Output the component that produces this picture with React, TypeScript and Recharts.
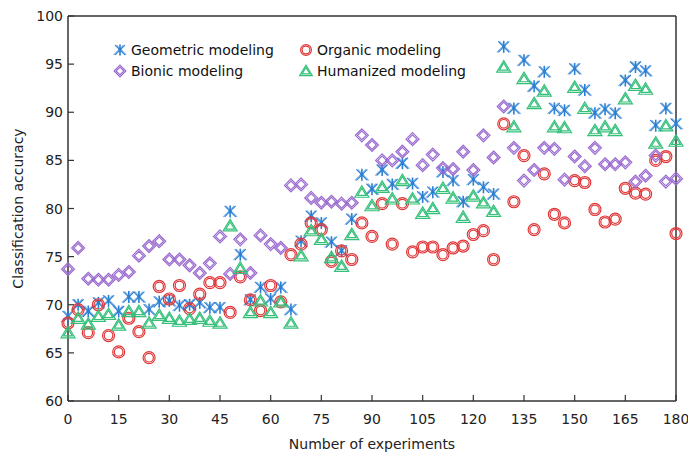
import { ReferenceLine, Scatter, ScatterChart, XAxis, YAxis } from "recharts";

// experiment number for each measurement
const experiments = [
  0, 3, 6, 9, 12, 15, 18, 21, 24, 27, 30, 33, 36, 39, 42, 45, 48, 51, 54, 57, 60,
  63, 66, 69, 72, 75, 78, 81, 84, 87, 90, 93, 96, 99, 102, 105, 108, 111, 114, 117,
  120, 123, 126, 129, 132, 135, 138, 141, 144, 147, 150, 153, 156, 159, 162, 165,
  168, 171, 174, 177, 180,
];

const geometric = [
  68.8, 70.0, 69.3, 70.2, 70.4, 69.3, 70.8, 70.8, 69.5, 70.3, 70.4, 69.9, 70.0, 70.2,
  69.7, 69.7, 79.7, 75.2, 70.5, 71.8, 70.6, 71.8, 69.5, 76.6, 79.2, 78.5, 76.5, 75.6,
  78.9, 83.5, 82.0, 84.0, 82.5, 84.7, 82.6, 81.2, 81.7, 83.8, 82.9, 80.7, 83.0, 82.2,
  81.5, 96.8, 90.4, 95.4, 92.7, 94.2, 90.4, 90.2, 94.5, 92.3, 89.9, 90.3, 89.9, 93.3,
  94.7, 94.3, 88.6, 90.4, 88.8,
];

const organic = [
  68.1, 69.5, 67.1, 70.0, 66.8, 65.1, 68.6, 67.2, 64.5, 71.9, 70.6, 72.0, 69.6, 71.1,
  72.3, 72.3, 69.2, 72.9, 70.5, 69.4, 72.0, 70.3, 75.2, 76.3, 78.5, 77.8, 74.5, 75.6,
  74.7, 78.5, 77.1, 80.5, 76.3, 80.5, 75.5, 76.0, 76.0, 75.2, 75.9, 76.1, 77.3, 77.7,
  74.7, 88.8, 80.7, 85.5, 77.8, 83.6, 79.4, 78.5, 82.9, 82.7, 79.9, 78.6, 78.9, 82.1,
  81.6, 81.5, 85.0, 85.4, 77.4,
];

const bionic = [
  73.7, 75.9, 72.7, 72.6, 72.6, 73.1, 73.4, 75.1, 76.1, 76.6, 74.7, 74.7, 74.1, 73.3,
  74.3, 77.1, 73.2, 76.8, 73.3, 77.2, 76.3, 75.9, 82.4, 82.5, 81.1, 80.6, 80.7, 80.5,
  80.6, 87.6, 86.6, 85.0, 85.0, 85.9, 87.2, 84.5, 85.6, 84.2, 84.1, 85.9, 84.0, 87.6,
  85.3, 90.6, 86.3, 82.9, 84.0, 86.3, 86.2, 83.0, 85.4, 84.4, 86.3, 84.6, 84.6, 84.8,
  82.8, 83.4, 85.5, 82.8, 83.1,
];

const humanized = [
  67.1, 68.6, 68.0, 68.8, 69.0, 67.9, 69.3, 69.3, 68.1, 68.9, 68.6, 68.3, 68.5, 68.6,
  68.3, 68.1, 78.2, 73.8, 69.2, 70.4, 69.2, 70.3, 68.1, 75.1, 77.7, 76.8, 74.9, 74.0,
  77.3, 81.7, 80.3, 82.2, 81.0, 82.9, 81.0, 79.5, 80.0, 82.1, 81.1, 79.1, 81.3, 80.6,
  79.7, 94.7, 88.5, 93.5, 90.9, 92.2, 88.5, 88.4, 92.6, 90.4, 88.1, 88.5, 88.1, 91.4,
  92.8, 92.4, 86.8, 88.6, 87.0,
];

const xTicks = [0, 15, 30, 45, 60, 75, 90, 105, 120, 135, 150, 165, 180];
const yTicks = [60, 65, 70, 75, 80, 85, 90, 95, 100];

const FONT = "'DejaVu Sans', Verdana, sans-serif";
const AXIS = "#333";

type Kind = "asterisk" | "circle" | "diamond" | "triangle";

function Marker({ kind, cx, cy, color, s = 1 }: { kind: Kind; cx: number; cy: number; color: string; s?: number }) {
  const sw = 1.2;
  if (kind === "circle") {
    return (
      <g fill="none" stroke={color} strokeWidth={sw}>
        <circle cx={cx} cy={cy} r={6 * s} />
        <circle cx={cx} cy={cy} r={4.3 * s} />
      </g>
    );
  }
  if (kind === "diamond") {
    const d = (r: number) => `M${cx},${cy - r}L${cx + r},${cy}L${cx},${cy + r}L${cx - r},${cy}Z`;
    return (
      <g fill="none" stroke={color} strokeWidth={sw}>
        <path d={d(6.5 * s)} />
        <path d={d(4.4 * s)} />
      </g>
    );
  }
  if (kind === "triangle") {
    const t = (r: number) =>
      `M${cx},${cy - r}L${cx + r * 1.1},${cy + r * 0.8}L${cx - r * 1.1},${cy + r * 0.8}Z`;
    return (
      <g fill="none" stroke={color} strokeWidth={sw} strokeLinejoin="miter">
        <path d={t(6.4 * s)} />
        <path d={t(4.0 * s)} />
      </g>
    );
  }
  const r = 5.5 * s;
  return (
    <g stroke={color} strokeWidth={1.1}>
      <line x1={cx - r} y1={cy - r} x2={cx + r} y2={cy + r} />
      <line x1={cx - r} y1={cy + r} x2={cx + r} y2={cy - r} />
      <line x1={cx - r + 1.4} y1={cy - r} x2={cx + r + 1.4} y2={cy + r} strokeOpacity={0.6} />
      <line x1={cx - r - 1.4} y1={cy + r} x2={cx + r - 1.4} y2={cy - r} strokeOpacity={0.6} />
      <line x1={cx} y1={cy - r - 0.5} x2={cx} y2={cy + r + 0.5} strokeWidth={1.6} />
      <circle cx={cx} cy={cy} r={1.6 * s} fill={color} stroke="none" />
    </g>
  );
}

const series: { name: string; values: number[]; color: string; kind: Kind }[] = [
  { name: "Geometric modeling", values: geometric, color: "#2a7fd2", kind: "asterisk" },
  { name: "Organic modeling", values: organic, color: "#e0383a", kind: "circle" },
  { name: "Bionic modeling", values: bionic, color: "#9a6ad0", kind: "diamond" },
  { name: "Humanized modeling", values: humanized, color: "#35c07a", kind: "triangle" },
];

function XTick({ x, y, payload }: any) {
  return (
    <g>
      <line x1={x} x2={x} y1={y} y2={y - 6} stroke={AXIS} strokeWidth={1.2} />
      <text x={x} y={y + 23} textAnchor="middle" fontSize={14} fill="#222" fontFamily={FONT}>
        {payload.value}
      </text>
    </g>
  );
}

function YTick({ x, y, payload }: any) {
  return (
    <g>
      <line x1={x} x2={x + 6} y1={y} y2={y} stroke={AXIS} strokeWidth={1.2} />
      <text x={x - 5} y={y + 5} textAnchor="end" fontSize={14} fill="#222" fontFamily={FONT}>
        {payload.value}
      </text>
    </g>
  );
}

function LegendItem({ name, color, kind, left, top }: any) {
  return (
    <div style={{ position: "absolute", left, top, display: "flex", alignItems: "center", whiteSpace: "nowrap" }}>
      <svg width={16} height={16} style={{ marginRight: 3 }}>
        <Marker kind={kind} cx={8} cy={8} color={color} s={0.9} />
      </svg>
      <span style={{ fontSize: 14, color: "#111", fontFamily: FONT }}>{name}</span>
    </div>
  );
}

export default function App() {
  const legendPos = [
    { left: 112, top: 42 },
    { left: 298, top: 42 },
    { left: 112, top: 63 },
    { left: 298, top: 63 },
  ];

  return (
    <div style={{ position: "absolute", left: 0, top: 0, width: 688, height: 453, fontFamily: FONT }}>
      <ScatterChart width={688} height={453} margin={{ top: 16, right: 12, left: 0, bottom: 0 }}>
        <XAxis
          type="number"
          dataKey="x"
          domain={[0, 180]}
          ticks={xTicks}
          height={52}
          tickSize={0}
          tickMargin={0}
          tickLine={false}
          axisLine={{ stroke: AXIS, strokeWidth: 1.5 }}
          tick={<XTick />}
          label={{ value: "Number of experiments", position: "insideBottom", offset: 4, fill: "#222", fontSize: 14 }}
        />
        <YAxis
          type="number"
          dataKey="y"
          domain={[60, 100]}
          ticks={yTicks}
          width={68}
          tickSize={0}
          tickMargin={0}
          tickLine={false}
          axisLine={{ stroke: AXIS, strokeWidth: 1.5 }}
          tick={<YTick />}
          label={{
            value: "Classification accuracy",
            angle: -90,
            position: "insideLeft",
            offset: 18,
            fill: "#222",
            fontSize: 14,
            style: { textAnchor: "middle" },
          }}
        />
        <ReferenceLine y={100} stroke={AXIS} strokeWidth={1.5} />
        <ReferenceLine x={180} stroke={AXIS} strokeWidth={1.5} />
        {series.map((s) => (
          <Scatter
            key={s.name}
            name={s.name}
            data={experiments.map((x, i) => ({ x, y: s.values[i] }))}
            isAnimationActive={false}
            shape={(p: any) => <Marker kind={s.kind} cx={p.cx} cy={p.cy} color={s.color} />}
          />
        ))}
      </ScatterChart>
      {series.map((s, i) => (
        <LegendItem key={s.name} name={s.name} color={s.color} kind={s.kind} {...legendPos[i]} />
      ))}
    </div>
  );
}
